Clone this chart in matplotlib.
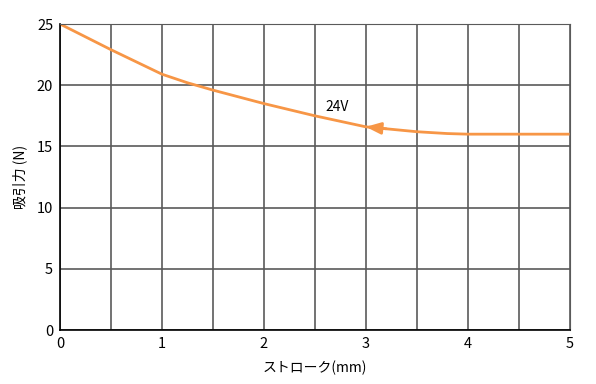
import numpy as np
import matplotlib.pyplot as plt

plt.rcParams['font.family'] = ['Noto Sans CJK JP', 'DejaVu Sans']

# stroke (mm) vs attraction force (N), 24 V
stroke = [0, 0.5, 1.0, 1.25, 1.5, 2.0, 2.5, 3.0, 3.5, 3.8, 4.0, 4.5, 5.0]
force = [25.0, 22.9, 20.9, 20.2, 19.6, 18.5, 17.5, 16.6, 16.2, 16.05, 16.0, 16.0, 16.0]
series_label = "24V"
orange = "#f79646"

fig = plt.figure(figsize=(5.96, 3.84), dpi=100)
ax = fig.add_axes([0.1007, 0.1406, 0.8550, 0.7969])

ax.plot(stroke, force, color=orange, lw=2, solid_capstyle='butt')

# direction arrow on the curve
xa = 3.0
ya = np.interp(xa, stroke, force)
ax.annotate("", xy=(xa, ya), xytext=(xa + 0.2, np.interp(xa + 0.2, stroke, force)),
            arrowprops=dict(arrowstyle="-|>,head_length=0.9,head_width=0.35",
                            color=orange, lw=2, shrinkA=0, shrinkB=0))
ax.text(2.72, 18.2, series_label, fontsize=10, ha='center', va='center')

ax.set_xlim(0, 5)
ax.set_ylim(0, 25)
ax.set_xticks(np.arange(0, 5.01, 1))
ax.set_xticks(np.arange(0, 5.01, 0.5), minor=True)
ax.set_yticks(np.arange(0, 25.1, 5))
ax.grid(which='both', color='#5a5a5a', lw=1.2)
ax.set_axisbelow(True)
ax.tick_params(which='both', length=0, labelsize=10.5, pad=5)

for s in ['top', 'right']:
    ax.spines[s].set_color('#5a5a5a')
for s in ['left', 'bottom']:
    ax.spines[s].set_color('black')
    ax.spines[s].set_linewidth(1.2)

ax.set_xlabel("ストローク(mm)", fontsize=10, labelpad=7)
ax.set_ylabel("吸引力 (N)", fontsize=10, labelpad=7)

fig.savefig("out.png", dpi=100)
